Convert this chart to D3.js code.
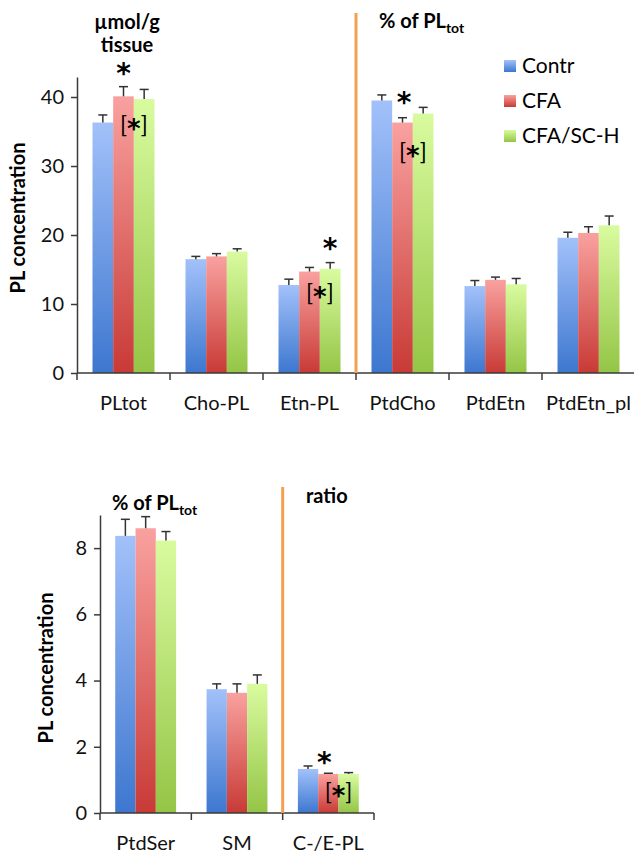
<!DOCTYPE html>
<html>
<head>
<meta charset="utf-8">
<script src="https://cdn.jsdelivr.net/npm/d3@7"></script>
<style>
  body { margin: 0; background: #fff; }
  svg { display: block; font-family: Lato, "Open Sans", sans-serif; }
  .axis .domain, .axis line { stroke: #3a3a3a; stroke-width: 1.5; }
  .axis text { font-size: 20px; fill: #111; font-family: Lato, sans-serif; }
</style>
</head>
<body>
<svg id="chart" width="634" height="854"></svg>
<script>
// series names
const groups = ['Contr', 'CFA', 'CFA/SC-H'];

// top panel
const topCats = ['PLtot', 'Cho-PL', 'Etn-PL', 'PtdCho', 'PtdEtn', 'PtdEtn_pl'];
const topContr = [36.3, 16.5, 12.75, 39.5, 12.6, 19.6];
const topCFA = [40.1, 16.9, 14.7, 36.3, 13.5, 20.3];
const topSCH = [39.7, 17.6, 15.1, 37.6, 12.85, 21.4];
const topContrErr = [1.1, 0.4, 0.85, 0.8, 0.8, 0.8];
const topCFAErr = [1.4, 0.4, 0.6, 0.7, 0.4, 0.9];
const topSCHErr = [1.4, 0.4, 0.9, 0.9, 0.85, 1.35];
const topTicks = [0, 10, 20, 30, 40];

// bottom panel
const botCats = ['PtdSer', 'SM', 'C-/E-PL'];
const botContr = [8.37, 3.74, 1.33];
const botCFA = [8.6, 3.63, 1.18];
const botSCH = [8.23, 3.9, 1.18];
const botContrErr = [0.5, 0.16, 0.09];
const botCFAErr = [0.35, 0.27, 0.02];
const botSCHErr = [0.27, 0.27, 0.04];
const botTicks = [0, 2, 4, 6, 8];

const colors = [
  ['#a2c1fa', '#3d77cf'],
  ['#f9a19f', '#c83a36'],
  ['#d9fb9f', '#94c546']
];

const svg = d3.select('#chart');
const defs = svg.append('defs');
colors.forEach((c, i) => {
  let grad = defs.append('linearGradient')
    .attr('id', 'grad' + i)
    .attr('x1', 0).attr('y1', 0).attr('x2', 0).attr('y2', 1);
  grad.append('stop').attr('offset', '0%').attr('stop-color', c[0]);
  grad.append('stop').attr('offset', '100%').attr('stop-color', c[1]);
});

const drawPanel = p => {
  const g = svg.append('g');
  const x = d3.scaleBand().domain(p.cats).range([p.left, p.right]).paddingInner(0).paddingOuter(0);
  const y = d3.scaleLinear().domain([0, p.max]).range([p.bottom, p.top]);
  const inner = d3.scaleBand().domain(groups).range([0, x.bandwidth() * 2 / 3]);
  const off = x.bandwidth() / 6;

  const rows = [];
  p.cats.forEach((c, i) => {
    p.series.forEach((s, j) => {
      rows.push({cat: c, grp: groups[j], idx: j, v: s[i], e: p.errs[j][i]});
    });
  });

  // bars
  g.selectAll('rect.bar')
    .data(rows)
    .enter()
    .append('rect')
    .attr('class', 'bar')
    .attr('x', d => x(d.cat) + off + inner(d.grp))
    .attr('width', inner.bandwidth())
    .attr('y', d => y(d.v))
    .attr('height', d => y(0) - y(d.v))
    .attr('fill', d => 'url(#grad' + d.idx + ')');

  // error bars (upper only)
  const eb = g.selectAll('g.err').data(rows).enter().append('g').attr('class', 'err')
    .attr('stroke', '#333').attr('stroke-width', 1.5);
  eb.append('line')
    .attr('x1', d => x(d.cat) + off + inner(d.grp) + inner.bandwidth() / 2)
    .attr('x2', d => x(d.cat) + off + inner(d.grp) + inner.bandwidth() / 2)
    .attr('y1', d => y(d.v))
    .attr('y2', d => y(d.v + d.e));
  eb.append('line')
    .attr('x1', d => x(d.cat) + off + inner(d.grp) + inner.bandwidth() / 2 - 4.5)
    .attr('x2', d => x(d.cat) + off + inner(d.grp) + inner.bandwidth() / 2 + 4.5)
    .attr('y1', d => y(d.v + d.e))
    .attr('y2', d => y(d.v + d.e));

  // y axis
  g.append('g')
    .attr('class', 'axis')
    .attr('transform', `translate(${p.left},0)`)
    .call(d3.axisLeft(y).tickValues(p.ticks).tickSize(6).tickSizeOuter(0).tickPadding(7));

  // x axis: line plus ticks between categories
  const xa = g.append('g').attr('class', 'axis');
  xa.append('line').attr('class', 'domain')
    .attr('x1', p.left).attr('x2', p.right)
    .attr('y1', y(0)).attr('y2', y(0));
  const bounds = p.cats.map(c => x(c)).concat([p.right]);
  xa.selectAll('line.tk').data(bounds).enter().append('line').attr('class', 'tk')
    .attr('x1', d => d).attr('x2', d => d)
    .attr('y1', y(0)).attr('y2', y(0) + 7);
  xa.selectAll('text').data(p.cats).enter().append('text')
    .attr('x', d => x(d) + x.bandwidth() / 2)
    .attr('y', y(0) + 37)
    .attr('text-anchor', 'middle')
    .style('font-size', '20px')
    .text(d => d);

  // orange divider
  g.append('line')
    .attr('x1', x(p.divider)).attr('x2', x(p.divider))
    .attr('y1', p.divTop).attr('y2', y(0))
    .attr('stroke', '#f5a050').attr('stroke-width', 3);

  // y title
  g.append('text')
    .attr('transform', `translate(${p.titleX},${p.titleY}) rotate(-90)`)
    .attr('text-anchor', 'middle')
    .style('font-size', '20px').style('font-weight', 'bold')
    .text('PL concentration');

  return {x, y, inner, off, g};
};

const pctLabel = (g, x, y) => {
  let t = g.append('text').attr('x', x).attr('y', y)
    .style('font-size', '20px').style('font-weight', 'bold');
  t.append('tspan').text('% of PL');
  t.append('tspan').attr('dy', 5).style('font-size', '14px').text('tot');
};

const star = (g, x, y) => {
  g.append('text').attr('x', x).attr('y', y).attr('text-anchor', 'middle')
    .style('font-size', '28px').style('font-weight', 'bold')
    .style('font-family', '"DejaVu Sans", sans-serif')
    .text('*');
};
const bstar = (g, x, y) => {
  let t = g.append('text').attr('x', x).attr('y', y).attr('text-anchor', 'middle')
    .style('font-size', '23px').style('font-family', 'Lato, sans-serif');
  t.append('tspan').text('[');
  t.append('tspan').style('font-size', '26px').style('font-weight', 'bold')
    .style('font-family', '"DejaVu Sans", sans-serif').attr('dy', 5).text('*');
  t.append('tspan').attr('dy', -5).text(']');
};

const topP = drawPanel({
  cats: topCats, series: [topContr, topCFA, topSCH], errs: [topContrErr, topCFAErr, topSCHErr],
  ticks: topTicks, max: 42.9, left: 77, right: 635, top: 77, bottom: 373,
  divider: 'PtdCho', divTop: 13, titleX: 25, titleY: 218
});
const botP = drawPanel({
  cats: botCats, series: [botContr, botCFA, botSCH], errs: [botContrErr, botCFAErr, botSCHErr],
  ticks: botTicks, max: 9, left: 100, right: 374, top: 515, bottom: 813,
  divider: 'C-/E-PL', divTop: 487, titleX: 53, titleY: 668
});

// header labels top
svg.append('text').attr('x', 127).attr('y', 29).attr('text-anchor', 'middle')
  .style('font-size', '20px').style('font-weight', 'bold').text('\u00b5mol/g');
svg.append('text').attr('x', 127).attr('y', 52).attr('text-anchor', 'middle')
  .style('font-size', '20px').style('font-weight', 'bold').text('tissue');
pctLabel(svg, 379, 28);
pctLabel(svg, 112, 510);
svg.append('text').attr('x', 306).attr('y', 503)
  .style('font-size', '20px').style('font-weight', 'bold').text('ratio');

// significance marks
const cx = (P, cat, grp) => P.x(cat) + P.off + P.inner(grp) + P.inner.bandwidth() / 2;
star(svg, cx(topP, 'PLtot', 'CFA'), 83);
bstar(svg, (cx(topP, 'PLtot', 'CFA') + cx(topP, 'PLtot', 'CFA/SC-H')) / 2, 133);
star(svg, cx(topP, 'Etn-PL', 'CFA/SC-H'), 258);
bstar(svg, (cx(topP, 'Etn-PL', 'CFA') + cx(topP, 'Etn-PL', 'CFA/SC-H')) / 2, 301);
star(svg, (cx(topP, 'PtdCho', 'CFA') + cx(topP, 'PtdCho', 'Contr')) / 2 + 12, 112);
bstar(svg, (cx(topP, 'PtdCho', 'CFA') + cx(topP, 'PtdCho', 'CFA/SC-H')) / 2, 160);
star(svg, cx(botP, 'C-/E-PL', 'CFA') - 4, 772);
bstar(svg, (cx(botP, 'C-/E-PL', 'CFA') + cx(botP, 'C-/E-PL', 'CFA/SC-H')) / 2, 800);

// legend
const leg = svg.append('g').selectAll('g').data(groups).enter().append('g')
  .attr('transform', (d, i) => `translate(504, ${60 + i * 35})`);
leg.append('rect').attr('width', 12).attr('height', 12)
  .attr('fill', (d, i) => 'url(#grad' + i + ')');
leg.append('text').attr('x', 18).attr('y', 13)
  .style('font-size', '21px').text(d => d);
</script>
</body>
</html>
